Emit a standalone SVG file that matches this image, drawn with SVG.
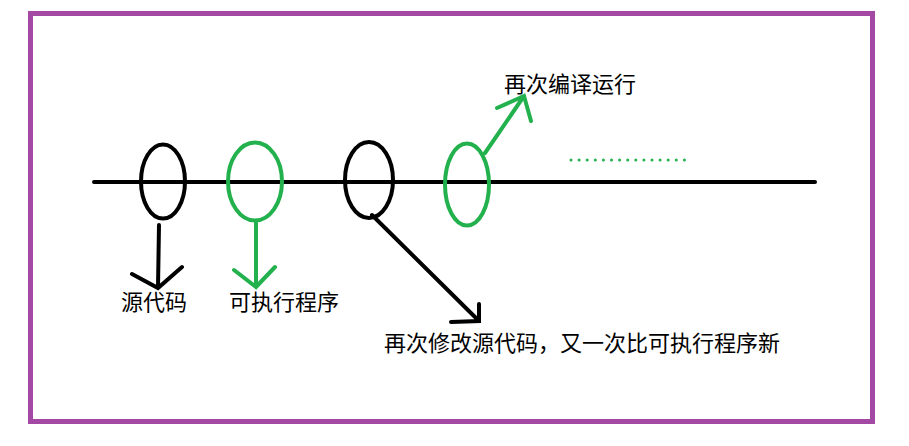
<svg xmlns="http://www.w3.org/2000/svg" width="909" height="446" viewBox="0 0 909 446">
<style>
.k{stroke:#000;fill:none;stroke-width:4;stroke-linecap:round}
.g{stroke:#22B14C;fill:none;stroke-width:4;stroke-linecap:round}
.t{font-family:"Noto Sans CJK SC","Microsoft YaHei",sans-serif;font-size:22px;fill:#000}
</style>
<rect x="0" y="0" width="909" height="446" fill="#fff"/>
<rect x="30.5" y="13.5" width="842" height="408" fill="none" stroke="#A349A4" stroke-width="5"/>
<g id="timeline"><line class="k" x1="94" y1="182" x2="815" y2="182" stroke-linecap="butt"/></g>
<g id="n1"><ellipse class="k" cx="163" cy="181.5" rx="22" ry="37"/><text class="t" x="121" y="310">源代码</text></g>
<g id="n2"><ellipse class="g" cx="255" cy="181.5" rx="27" ry="39"/><text class="t" x="229" y="310">可执行程序</text></g>
<g id="n3"><ellipse class="k" cx="369" cy="180" rx="24" ry="38"/><text class="t" x="384" y="351">再次修改源代码，又一次比可执行程序新</text></g>
<g id="n4"><ellipse class="g" cx="467" cy="184.5" rx="22" ry="41"/><text class="t" x="504" y="92">再次编译运行</text></g>
<g id="dots"><line x1="571" y1="160" x2="685" y2="160" stroke="#22B14C" stroke-width="3" stroke-dasharray="0 8.1" stroke-linecap="round"/></g>
<g id="connectors">
<path class="k" d="M159 225 L158 288 M132 274 L158 288 L182 267"/>
<path class="g" d="M256 223 L256 287 M234 270 L256 287 L275 267"/>
<path class="k" d="M372 215 L479 321 M451 322 L479 321 L479 304"/>
<path class="g" d="M485 153 L524 96 M497 108 L524 96 L531 121"/>
</g>
</svg>
